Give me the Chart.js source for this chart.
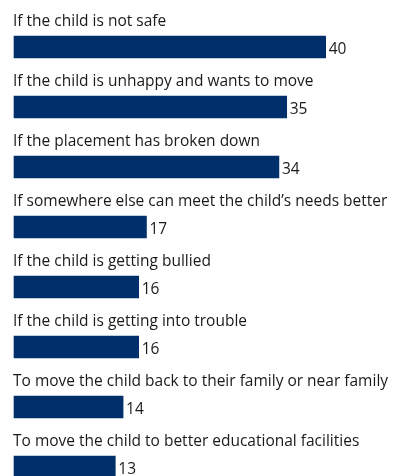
<!DOCTYPE html>
<html>
<head>
<meta charset="utf-8">
<script src="https://cdn.jsdelivr.net/npm/chart.js@4"></script>
<style>
  html, body { margin: 0; padding: 0; background: #fff; }
  #wrap { width: 394px; height: 476px; position: relative; }
</style>
</head>
<body>
<div id="wrap"><canvas id="reasonsChart"></canvas></div>
<script>
const categories = [
    'If the child is not safe',
    'If the child is unhappy and wants to move',
    'If the placement has broken down',
    'If somewhere else can meet the child\u2019s needs better',
    'If the child is getting bullied',
    'If the child is getting into trouble',
    'To move the child back to their family or near family',
    'To move the child to better educational facilities'
];
const values = [40, 35, 34, 17, 16, 16, 14, 13];

const labelFont = '15.5px "Open Sans"';
const textColor = '#1a1a1a';

// label above each bar and value just past its end
const barLabels = {
    id: 'barLabels',
    afterDatasetsDraw(chart) {
        const c = chart.ctx;
        const meta = chart.getDatasetMeta(0);
        c.save();
        c.font = labelFont;
        c.fillStyle = textColor;
        c.textBaseline = 'alphabetic';
        c.textAlign = 'left';
        meta.data.forEach((bar, i) => {
            const top = bar.y - bar.height / 2;
            c.fillText(chart.data.labels[i], 13, top - 10);
            c.fillText(String(values[i]), bar.x + 3, bar.y + 7);
        });
        c.restore();
    }
};

let ctx = document.getElementById('reasonsChart').getContext('2d');
let reasonsChart = new Chart(ctx, {
    type: 'bar',
    data: {
        labels: categories,
        datasets: [{
            data: values,
            backgroundColor: '#002f6c',
            borderWidth: 0,
            barThickness: 22,
            clip: false
        }]
    },
    options: {
        indexAxis: 'y',
        animation: false,
        responsive: true,
        maintainAspectRatio: false,
        layout: { padding: { left: 14, right: 6, top: 47, bottom: 9 } },
        plugins: { legend: { display: false }, tooltip: { enabled: false } },
        scales: {
            x: { display: false, min: 0, max: 48 },
            y: { display: false, offset: false }
        }
    },
    plugins: [barLabels]
});
</script>
</body>
</html>
